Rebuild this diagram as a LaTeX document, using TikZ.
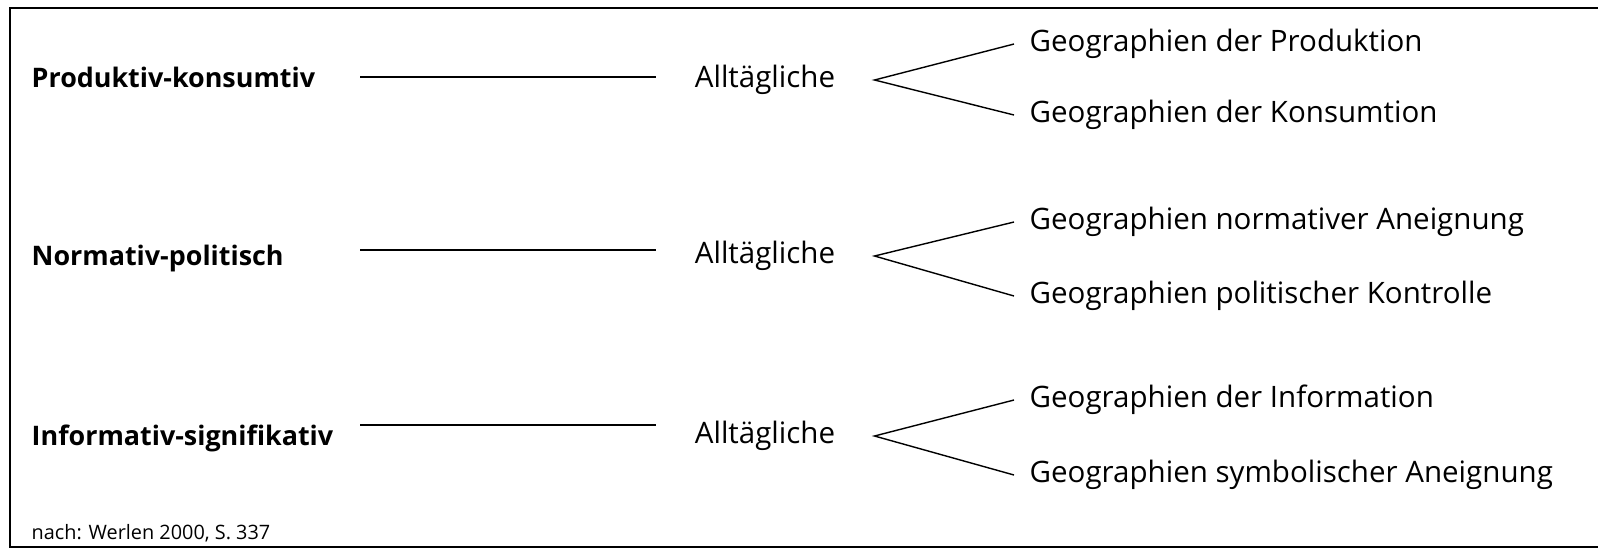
\documentclass[tikz,border=0pt]{standalone}
\usepackage{fontspec}
\setmainfont{Open Sans}
\usetikzlibrary{positioning}

\begin{document}
\begin{tikzpicture}[
    x=0.02cm, y=-0.02cm,
    line width=0.8pt,
    dim/.style={anchor=west, inner sep=0pt, font=\fontsize{15.3}{18}\selectfont\bfseries, text height=12pt, text depth=3.5pt},
    alltag/.style={inner ysep=0pt, inner xsep=22pt, font=\fontsize{16.8}{20}\selectfont, text height=12pt, text depth=3.5pt},
    geo/.style={anchor=west, inner ysep=0pt, inner xsep=8.5pt, font=\fontsize{16.8}{20}\selectfont, text height=12pt, text depth=3.5pt},
    src/.style={anchor=west, inner sep=0pt, font=\fontsize{11.3}{13}\selectfont}
]
    \useasboundingbox (0,0) rectangle (1598,549);

    % --- Rahmen (rechts offen) ---
    \draw[line width=1pt] (1598,8) -- (10,8) -- (10,547) -- (1598,547);

    % ==================================================
    % Zeile 1: Produktiv-konsumtiv
    % ==================================================
    \node[dim] (dim1) at (31,80) {Produktiv-konsumtiv};
    \coordinate (s1) at (360,77);
    \node[alltag] (all1) at (765,80) {Alltägliche};
    \node[geo] (geo1a) at (1014,44) {Geographien der Produktion};
    \node[geo] (geo1b) at (1014,115) {Geographien der Konsumtion};

    \draw (s1) -- (s1 -| all1.west);
    \draw (geo1a.west) -- (all1.east) -- (geo1b.west);

    % ==================================================
    % Zeile 2: Normativ-politisch
    % ==================================================
    \node[dim] (dim2) at (31,258) {Normativ-politisch};
    \coordinate (s2) at (360,250);
    \node[alltag] (all2) at (765,256) {Alltägliche};
    \node[geo] (geo2a) at (1014,222) {Geographien normativer Aneignung};
    \node[geo] (geo2b) at (1014,296) {Geographien politischer Kontrolle};

    \draw (s2) -- (s2 -| all2.west);
    \draw (geo2a.west) -- (all2.east) -- (geo2b.west);

    % ==================================================
    % Zeile 3: Informativ-signifikativ
    % ==================================================
    \node[dim] (dim3) at (31,438) {Informativ-signifikativ};
    \coordinate (s3) at (360,425);
    \node[alltag] (all3) at (765,436) {Alltägliche};
    \node[geo] (geo3a) at (1014,400) {Geographien der Information};
    \node[geo] (geo3b) at (1014,475) {Geographien symbolischer Aneignung};

    \draw (s3) -- (s3 -| all3.west);
    \draw (geo3a.west) -- (all3.east) -- (geo3b.west);

    % --- Quelle ---
    \node[src] (quelle) at (31,533) {nach: Werlen 2000, S. 337};

\end{tikzpicture}
\end{document}
